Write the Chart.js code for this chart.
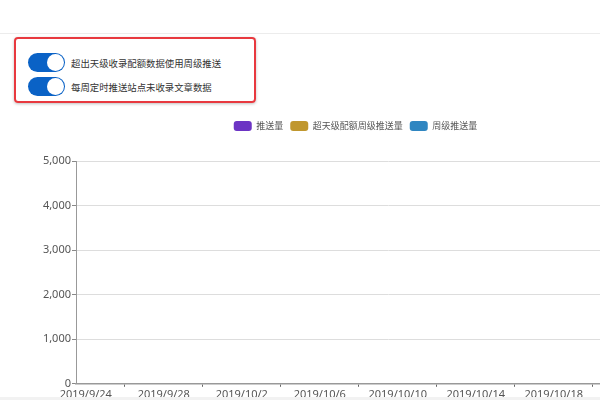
<!DOCTYPE html>
<html>
<head>
<meta charset="utf-8">
<script src="https://cdn.jsdelivr.net/npm/chart.js@4.4.0/dist/chart.umd.min.js"></script>
<style>
  html, body { margin: 0; padding: 0; width: 600px; height: 400px; overflow: hidden; background: #fff;
    font-family: "Noto Sans CJK SC", "Noto Sans", sans-serif; }
  .topline { position: absolute; left: 0; top: 33px; width: 600px; height: 1px; background: #ececec; }
  .panel { position: absolute; left: 14px; top: 37px; width: 238px; height: 62px;
    border: 2px solid #e8393f; border-radius: 4px; box-shadow: 0 1px 3px rgba(0,0,0,0.25); }
  .row { position: absolute; left: 12px; height: 19px; display: flex; align-items: center; }
  .sw { width: 37px; height: 19px; border-radius: 10px; background: #0a62c6; position: relative; }
  .sw::after { content: ""; position: absolute; right: 1px; top: 1px; width: 17px; height: 17px;
    border-radius: 50%; background: #fff; }
  .lbl { margin-left: 6px; font-size: 9.4px; color: #333; white-space: nowrap; }
  .wrap { position: absolute; left: 0; top: 114px; width: 711px; height: 288px; }
  .bottom { position: absolute; left: 0; top: 397px; width: 600px; height: 3px; background: #f2f2f2; }
</style>
</head>
<body>
<div class="topline"></div>
<div class="panel">
  <div class="row" style="top:14px"><div class="sw"></div><span class="lbl">超出天级收录配额数据使用周级推送</span></div>
  <div class="row" style="top:38px"><div class="sw"></div><span class="lbl">每周定时推送站点未收录文章数据</span></div>
</div>
<div class="wrap"><canvas id="c"></canvas></div>
<div class="bottom"></div>
<script>
const categories = [
  "2019/9/24","2019/9/25","2019/9/26","2019/9/27","2019/9/28","2019/9/29","2019/9/30",
  "2019/10/1","2019/10/2","2019/10/3","2019/10/4","2019/10/5","2019/10/6","2019/10/7",
  "2019/10/8","2019/10/9","2019/10/10","2019/10/11","2019/10/12","2019/10/13","2019/10/14",
  "2019/10/15","2019/10/16","2019/10/17","2019/10/18","2019/10/19","2019/10/20","2019/10/21",
  "2019/10/22","2019/10/23","2019/10/24","2019/10/25"
];
const pushCount = [];          // 推送量 (no data shown)
const overQuotaWeekly = [];    // 超天级配额周级推送量 (no data shown)
const weeklyPush = [];         // 周级推送量 (no data shown)
const yTicks = [0, 1000, 2000, 3000, 4000, 5000];

const tickFont = { family: '"Noto Sans", "DejaVu Sans", sans-serif', size: 11 };

const legendGap = {
  id: 'legendGap',
  beforeInit(chart) {
    const orig = chart.legend.fit;
    chart.legend.fit = function () { orig.call(this); this.height += 20; };
  }
};

new Chart(document.getElementById('c'), {
  type: 'bar',
  plugins: [legendGap],
  data: {
    labels: categories,
    datasets: [
      { label: '推送量', data: pushCount, backgroundColor: '#6c34c4' },
      { label: '超天级配额周级推送量', data: overQuotaWeekly, backgroundColor: '#c0972e' },
      { label: '周级推送量', data: weeklyPush, backgroundColor: '#2f86c1' }
    ]
  },
  options: {
    responsive: true,
    maintainAspectRatio: false,
    animation: false,
    layout: { padding: { left: 11, right: 11, top: 0, bottom: 0 } },
    plugins: {
      tooltip: { enabled: false },
      legend: {
        position: 'top',
        labels: {
          boxWidth: 18, boxHeight: 10, useBorderRadius: true, borderRadius: 3,
          padding: 7, color: '#555',
          font: { family: '"Noto Sans CJK SC", sans-serif', size: 9 }
        }
      }
    },
    scales: {
      x: {
        type: 'category',
        offset: true,
        grid: {
          offset: false, drawOnChartArea: false, tickLength: 3,
          tickColor: (ctx) => (ctx.index % 4 === 2 ? '#666' : 'rgba(0,0,0,0)')
        },
        border: { display: true, color: '#999', width: 1.5 },
        ticks: {
          autoSkip: false, maxRotation: 0, minRotation: 0, padding: 1,
          color: '#555', font: tickFont,
          callback: function (v, i) { return i % 4 === 0 ? categories[i] : ''; }
        }
      },
      y: {
        min: yTicks[0], max: yTicks[yTicks.length - 1],
        afterBuildTicks: (s) => { s.ticks = yTicks.map(v => ({ value: v })); },
        afterFit: (s) => { s.width = 65; },
        grid: { color: '#dddddd', tickLength: 4, tickColor: '#888' },
        border: { display: true, color: '#999', width: 1 },
        ticks: { padding: 1, color: '#555', font: tickFont }
      }
    }
  }
});
</script>
</body>
</html>
